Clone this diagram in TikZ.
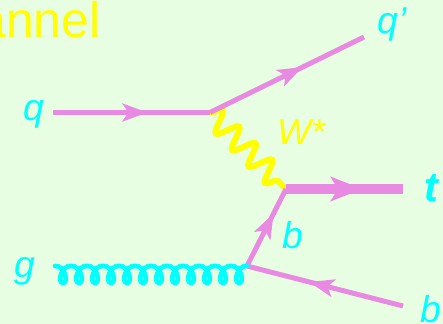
\documentclass[tikz,border=0pt]{standalone}
\usepackage{fontspec}
\setmainfont{Liberation Sans}
\usetikzlibrary{arrows.meta,decorations.pathmorphing,decorations.markings}
\definecolor{bggreen}{RGB}{232,254,226}
\definecolor{linepink}{RGB}{232,138,226}
\definecolor{wyellow}{RGB}{255,255,0}
\definecolor{labcyan}{RGB}{0,255,255}

\begin{document}
\begin{tikzpicture}[x=0.75pt,y=0.75pt,yscale=-1,xscale=1,
  fermion/.style={draw=linepink,color=linepink,line width=3.75pt,postaction={decorate},
    decoration={markings,mark=at position #1 with {\arrow{Stealth[length=19pt,width=14pt,inset=5pt,line width=0pt]}}}},
  heavy/.style={draw=linepink,color=linepink,line width=8pt,postaction={decorate},
    decoration={markings,mark=at position #1 with {\arrow{Stealth[length=24pt,width=19pt,inset=6pt,line width=0pt]}}}},
  wboson/.style={draw=wyellow,line width=4.5pt,decorate,decoration={snake,amplitude=8pt,segment length=17.5pt}},
  gluon/.style={draw=labcyan,line width=3.5pt,line join=round,line cap=round},
  lbl/.style={text=labcyan,inner sep=0pt,anchor=base,font=\fontsize{28}{30}\selectfont\itshape}]
%set diagram size 443 x 324
\useasboundingbox (0,0) rectangle (443,324);
\fill[bggreen] (0,0) rectangle (443,324);

%Vertices
\coordinate (qin) at (53,112.5);
\coordinate (vq) at (210,112.5);
\coordinate (qout) at (364,37);
\coordinate (vt) at (286,189);
\coordinate (tout) at (403,189);
\coordinate (vg) at (247,266);
\coordinate (gin) at (55,266);
\coordinate (bout) at (403,306);

%Wavy line W*
\draw [wboson] (vq) -- (vt) ;
%Straight Lines q, q'
\draw [fermion=0.6] (qin) -- (vq) ;
\draw [fermion=0.6] (vq) -- (qout) ;
%Straight Lines t
\draw [heavy=0.65] (vt) -- (tout) ;
%Straight Lines b
\draw [fermion=0.68] (vg) -- (vt) ;
\draw [fermion=0.6] (bout) -- (vg) ;
%Curly line g, 12 loops of 16 from (gin) to (vg)
\draw [gluon] (gin) foreach \i in {0,...,11} {
  .. controls ({55+16*\i+10},265) and ({55+16*\i+14},283) .. ({55+16*\i+8},283)
  .. controls ({55+16*\i+2},283) and ({55+16*\i+6},265) .. ({55+16*\i+16},266) } ;

% Text Node
\node [anchor=base east,inner sep=0pt,text=wyellow,font=\fontsize{37.5}{40}\selectfont] (title) at (101,38) {annel};
% Text Node
\node [lbl] (lq) at (34,121) {q};
% Text Node
\node [lbl] (lqp) at (392,34) {q’};
% Text Node
\node [lbl,text=wyellow,font=\fontsize{27}{30}\selectfont\itshape] (lw) at (301,145) {W*};
% Text Node
\node [lbl,font=\fontsize{31}{33}\selectfont\bfseries\itshape] (lt) at (431,202) {t};
% Text Node
\node [lbl] (lb) at (293,248) {b};
% Text Node
\node [lbl] (lg) at (25,277) {g};
% Text Node
\node [lbl] (lbb) at (431,322) {b};

\end{tikzpicture}
\end{document}
